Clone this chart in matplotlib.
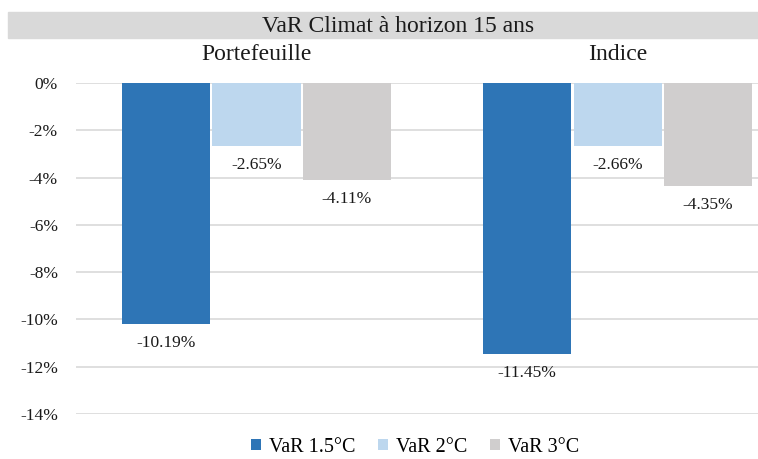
import matplotlib.pyplot as plt
from matplotlib.patches import Rectangle

categories = ["Portefeuille", "Indice"]
series_names = ["VaR 1.5°C", "VaR 2°C", "VaR 3°C"]
var_15 = [-10.19, -11.45]
var_2 = [-2.65, -2.66]
var_3 = [-4.11, -4.35]
yticks = [0, -2, -4, -6, -8, -10, -12, -14]

colors = ["#2e75b6", "#bdd7ee", "#d0cece"]
font = "Liberation Serif"

W, H = 758, 459
fig = plt.figure(figsize=(W / 100, H / 100), dpi=100)
plt.rcParams["font.family"] = font

# axes placed in pixel coords: x 76..758, y 83 (0%) .. 414 (-14%)
ax_top, ax_bot = 83, 414
ax = fig.add_axes([76 / W, 1 - ax_bot / H, (758 - 76) / W, (ax_bot - ax_top) / H])

# title band
fig.patches.append(Rectangle((8 / W, 1 - 38 / H), (758 - 8) / W, 26 / H,
                             transform=fig.transFigure, color="#d9d9d9", zorder=0))
fig.text(398 / W, 1 - 27 / H, "VaR Climat à horizon 15 ans", ha="center", va="center",
         fontsize=17, color="#1a1a1a")

width = 0.244
offsets = [-0.25, 0.0, 0.25]
for vals, off, col, name in zip([var_15, var_2, var_3], offsets, colors, series_names):
    xs = [i + off for i in range(len(categories))]
    bars = ax.bar(xs, vals, width, color=col, label=name, zorder=3)
    for b, v in zip(bars, vals):
        ax.annotate(f"{v:.2f}%", (b.get_x() + b.get_width() / 2, v),
                    xytext=(0, -8), textcoords="offset points",
                    ha="center", va="top", fontsize=12.5, color="#1a1a1a")

y_cat = (ax_bot - 54) / (ax_bot - ax_top)
for i, c in enumerate(categories):
    ax.text(i, y_cat, c, transform=ax.get_xaxis_transform(), ha="center",
            va="center", fontsize=17, color="#1a1a1a", clip_on=False)

ax.set_xlim(-0.5, 1.389)
ax.set_ylim(-14, 0)
ax.set_yticks(yticks)
ax.set_yticklabels([f"{t}%" for t in yticks], fontsize=12.5, color="#1a1a1a")
ax.set_xticks([])
ax.tick_params(axis="y", length=0, pad=13)
ax.grid(axis="y", color="#d9d9d9", lw=1.2, zorder=0)
for s in ax.spines.values():
    s.set_visible(False)

fig.legend(loc="center", bbox_to_anchor=(415 / W, 1 - 447 / H), ncol=3, frameon=False,
           fontsize=14.5, handlelength=0.5, handleheight=0.5, handletextpad=0.4,
           columnspacing=1.1)

fig.savefig("out.png", dpi=100)
